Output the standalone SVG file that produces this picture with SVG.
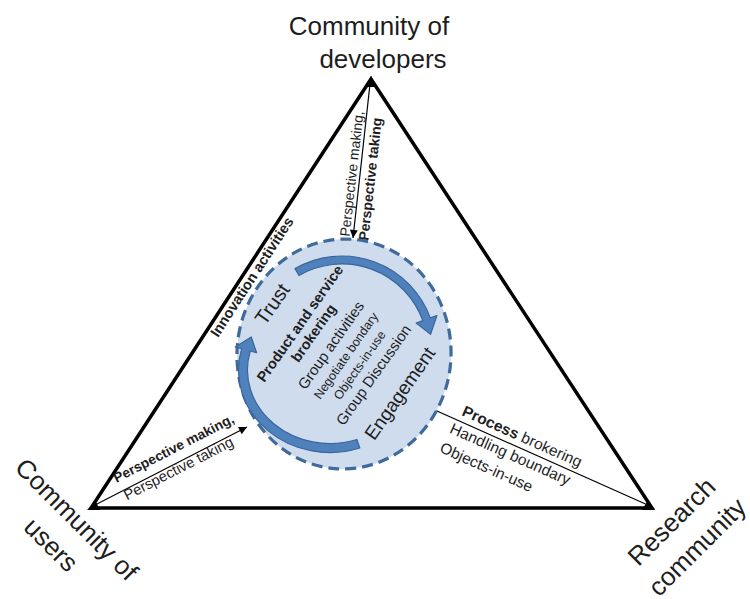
<svg xmlns="http://www.w3.org/2000/svg" width="750" height="599" viewBox="0 0 750 599">
<defs>
<style>
text{font-family:"Liberation Sans",Arial,sans-serif;fill:#1e1e1e}
.big{font-size:26px}
.lbl{font-size:14.5px}
.b{font-weight:bold}
.edge{fill:none;stroke:#000;stroke-width:3.5;stroke-linejoin:miter}
.thin{fill:none;stroke:#000;stroke-width:1.2;marker-end:url(#ah)}
.band{fill:#4f81bd;stroke:#3a659a;stroke-width:1.2;stroke-linejoin:round}
</style>
<marker id="ah" viewBox="0 0 10 10" refX="10" refY="5" markerWidth="10" markerHeight="8" markerUnits="userSpaceOnUse" orient="auto"><path d="M0,0 L10,5 L0,10 z" fill="#000"/></marker>
</defs>
<rect width="750" height="599" fill="#fff"/>

<g id="connectors">
<polygon class="edge" points="371,79 91,508 652,508"/>
<polygon points="371,76 366,87 376,87" fill="#000"/>
<polygon points="87,510 100,510 96,502" fill="#000"/>
<polygon points="655,510 642,510 647,502" fill="#000"/>
<line class="thin" x1="370" y1="84" x2="353" y2="238"/>
<line class="thin" x1="95" y1="505" x2="247" y2="427"/>
<line class="thin" x1="650" y1="506" x2="428" y2="407"/>
</g>

<g id="node-developers">
<text class="big" x="369" y="35" text-anchor="middle">Community of</text>
<text class="big" x="383" y="68" text-anchor="middle">developers</text>
</g>

<g id="node-users" transform="translate(70.3,525.6) rotate(45)">
<text class="big" x="0" y="0" text-anchor="middle">Community of</text>
<text class="big" x="0" y="36" text-anchor="middle">users</text>
</g>

<g id="node-research" transform="translate(677.9,527.9) rotate(-45)">
<text class="big" x="0" y="0" text-anchor="middle">Research</text>
<text class="big" x="0" y="36" text-anchor="middle">community</text>
</g>

<g id="label-innovation">
<text class="b" font-size="14.5" transform="translate(218,338) rotate(-56.9)">Innovation activities</text>
</g>

<g id="label-top" transform="translate(349.5,237) rotate(-83.6)">
<text font-size="14">Perspective making,</text>
<text class="b" font-size="14" x="-2" y="19">Perspective taking</text>
</g>

<g id="label-left" transform="translate(116.5,483) rotate(-27.2)">
<text class="b" font-size="13.8">Perspective making,</text>
<text font-size="14.8" x="1.3" y="20.4">Perspective taking</text>
</g>

<g id="label-right" transform="translate(461,415) rotate(24)" font-size="15.5">
<text><tspan font-weight="bold">Process</tspan> brokering</text>
<text x="-4" y="21">Handling boundary</text>
<text x="-5.5" y="42.5">Objects-in-use</text>
</g>

<g id="node-core">
<ellipse cx="344" cy="354" rx="107" ry="115" transform="rotate(4.5 344 354)" fill="#cfdcee" stroke="#3f6a9c" stroke-width="3.2" stroke-dasharray="11 6"/>
<path class="band" d="M295,268.6 A94,94 0 0 1 430.3,317.9 L436.9,315.5 L430.6,334.4 L416.2,323 L422.8,320.6 A86,86 0 0 0 299,275.5 Z"/>
<path class="band" d="M359.8,448 A91.5,82.5 0 0 1 241.6,348.6 L235.3,347 L251.2,337 L256.6,352.7 L250.3,351 A82.5,73.5 0 0 0 356.9,439.5 Z"/>
<g transform="translate(345,355) rotate(-55)" text-anchor="middle">
<text font-size="20" y="-82">Trust</text>
<text class="b" font-size="14.5" y="-50">Product and service</text>
<text class="b" font-size="14.5" y="-33.5">brokering</text>
<text font-size="15" y="-12">Group activities</text>
<text font-size="12.5" y="5.5">Negotiate bondary</text>
<text font-size="12.5" y="22">Objects-in-use</text>
<text font-size="15" y="40">Group Discussion</text>
<text font-size="19" y="73.5">Engagement</text>
</g>
</g>
</svg>
